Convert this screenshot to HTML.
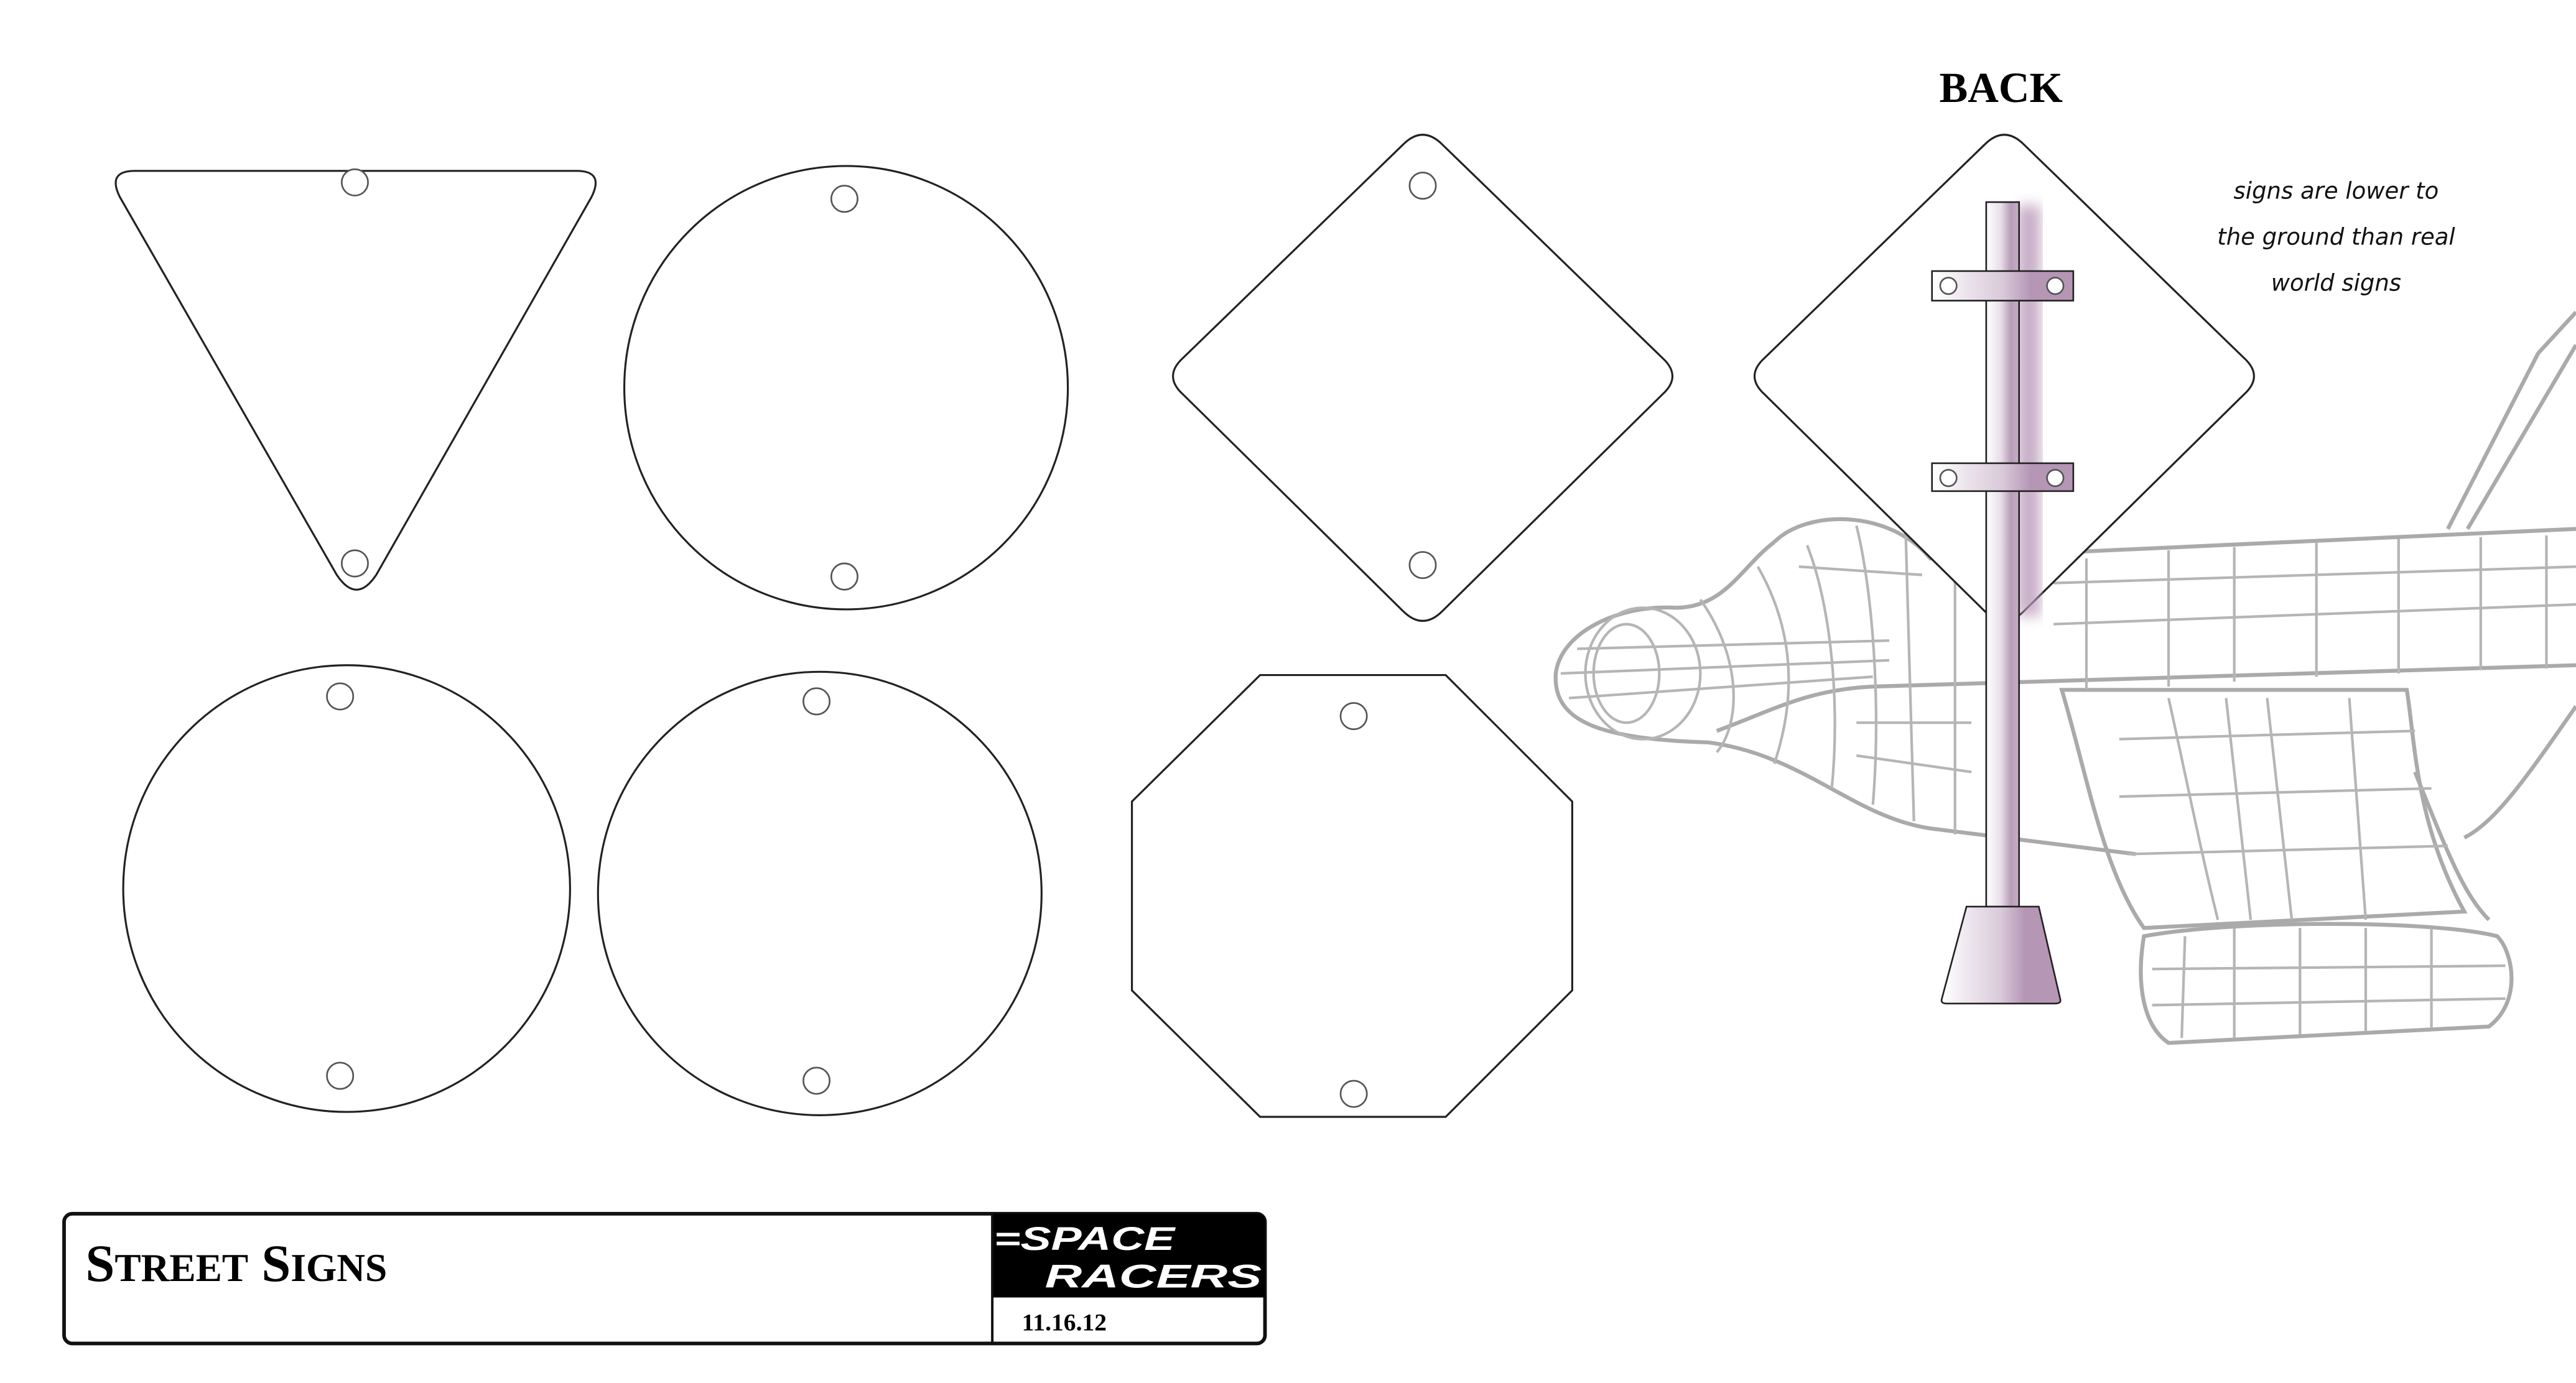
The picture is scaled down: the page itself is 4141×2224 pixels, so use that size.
<!DOCTYPE html>
<html><head><meta charset="utf-8"><style>
html,body{margin:0;padding:0;background:#fff}
svg{display:block}
</style></head><body>
<svg width="4141" height="2224" viewBox="0 0 1568 842" xmlns="http://www.w3.org/2000/svg">
<defs>
<linearGradient id="pg" x1="0" x2="1" y1="0" y2="0">
<stop offset="0" stop-color="#fff"/><stop offset="0.45" stop-color="#e8dde8"/><stop offset="0.75" stop-color="#b89cb8"/><stop offset="1" stop-color="#c7b0c7"/></linearGradient>
<linearGradient id="bg" x1="0" x2="1" y1="0" y2="0">
<stop offset="0" stop-color="#fff"/><stop offset="0.5" stop-color="#d9c9d9"/><stop offset="0.7" stop-color="#b596b5"/><stop offset="1" stop-color="#b596b5"/></linearGradient>
<filter id="bl"><feGaussianBlur stdDeviation="4"/></filter>
</defs>
<rect width="1568" height="842" fill="#fff"/>

<g fill="none" stroke="#aaa" stroke-width="2.4">
<path d="M1080,330 C1100,310 1150,310 1175,340 L1568,322"/>
<path d="M1490,322 L1545,215 L1568,190"/>
<path d="M1502,322 L1568,210"/>
<path d="M1080,330 C1060,345 1050,370 1020,370 C985,368 950,385 947,410 C945,440 975,450 1040,452 C1100,460 1130,500 1180,505 C1220,510 1260,515 1300,520"/>
<path d="M1045,445 C1080,432 1100,420 1140,418 L1568,405"/>
<path d="M1255,420 C1270,470 1280,530 1305,565 L1500,555 C1470,500 1470,450 1465,420 Z"/>
<path d="M1305,570 C1300,600 1305,625 1320,635 L1515,625 C1535,610 1530,580 1520,570 C1480,560 1360,560 1305,570 Z"/>
<path d="M1470,470 C1490,520 1500,545 1515,560"/>
<path d="M1568,430 C1540,470 1520,500 1500,510"/>
</g>
<g fill="none" stroke="#b5b5b5" stroke-width="1.6">
<ellipse cx="990" cy="410" rx="20" ry="30"/>
<ellipse cx="1000" cy="410" rx="35" ry="40"/>
<path d="M960,395 L1150,390 M955,425 L1140,412 M950,410 L1150,402 M1035,365 C1060,400 1060,440 1045,458 M1070,345 C1090,380 1095,420 1080,465 M1100,332 C1115,370 1120,430 1115,480 M1130,320 C1140,360 1145,430 1140,490 M1160,325 L1165,500 M1190,340 L1190,508 M1095,345 L1170,350 M1270,340 L1270,420 M1320,335 L1320,418 M1360,333 L1360,415 M1410,330 L1410,412 M1460,328 L1460,410 M1510,327 L1510,408 M1550,326 L1550,407 M1250,380 L1568,368 M1250,355 L1568,345 M1130,460 L1200,470 M1130,440 L1200,440 M1290,450 L1470,445 M1290,485 L1480,480 M1295,520 L1490,515 M1320,425 C1330,470 1340,520 1350,560 M1355,425 L1370,560 M1380,425 L1395,560 M1430,425 L1440,560 M1330,570 L1328,632 M1360,565 L1360,632 M1400,565 L1400,630 M1440,565 L1440,628 M1480,565 L1480,626 M1310,590 L1525,588 M1310,612 L1525,608"/>
</g>

<g fill="#fff" stroke="#222" stroke-width="1.2">
<path d="M82,104 L351,104 Q368,104 360,120 L229,350 Q217,368 205,350 L73,120 Q65,104 82,104 Z"/>
<circle cx="515" cy="236" r="135"/>
<circle cx="211" cy="541" r="136"/>
<circle cx="499" cy="544" r="135"/>
<path d="M854,88 Q866,76 878,88 L1012,218 Q1024,229 1012,240 L878,372 Q866,384 854,372 L720,240 Q708,229 720,218 Z"/>
<path d="M767,411 L880,411 L957,488 L957,603 L880,680 L767,680 L689,603 L689,488 Z"/>
<path d="M1208,88 Q1220,76 1232,88 L1366,218 Q1378,229 1366,240 L1232,372 Q1220,384 1208,372 L1074,240 Q1062,229 1074,218 Z"/>
</g>
<g fill="#fff" stroke="#555" stroke-width="1">
<circle cx="216" cy="111" r="8"/><circle cx="216" cy="343" r="8"/>
<circle cx="514" cy="121" r="8"/><circle cx="514" cy="351" r="8"/>
<circle cx="207" cy="424" r="8"/><circle cx="207" cy="655" r="8"/>
<circle cx="497" cy="427" r="8"/><circle cx="497" cy="658" r="8"/>
<circle cx="866" cy="113" r="8"/><circle cx="866" cy="344" r="8"/>
<circle cx="824" cy="436" r="8"/><circle cx="824" cy="666" r="8"/>
</g>

<rect x="1228" y="125" width="14" height="250" fill="#b99ab9" filter="url(#bl)" opacity="0.8"/>
<rect x="1209" y="123" width="20" height="429" fill="url(#pg)" stroke="#222" stroke-width="1"/>
<rect x="1176" y="165" width="86" height="18" fill="url(#bg)" stroke="#222" stroke-width="1"/>
<rect x="1176" y="282" width="86" height="17" fill="url(#bg)" stroke="#222" stroke-width="1"/>
<g fill="#fff" stroke="#555"><circle cx="1186" cy="174" r="5"/><circle cx="1251" cy="174" r="5"/><circle cx="1186" cy="291" r="5"/><circle cx="1251" cy="291" r="5"/></g>
<path d="M1197,552 L1241,552 L1254,608 Q1255,611 1251,611 L1185,611 Q1181,611 1182,608 Z" fill="url(#bg)" stroke="#222" stroke-width="1"/>

<text x="1218" y="62" text-anchor="middle" font-family="Liberation Serif, serif" font-weight="bold" font-size="26">BACK</text>
<g font-family="DejaVu Sans, sans-serif" font-size="14" text-anchor="middle" font-style="italic" fill="#111">
<text x="1422" y="121">signs are lower to</text>
<text x="1422" y="149">the ground than real</text>
<text x="1422" y="177">world signs</text>
</g>

<rect x="39" y="739" width="731" height="79" rx="5" fill="#fff" stroke="#111" stroke-width="2.2"/>
<path d="M604,739 L765,739 Q770,739 770,744 L770,790 L604,790 Z" fill="#000"/>
<line x1="604" y1="739" x2="604" y2="818" stroke="#111" stroke-width="1.5"/>
<text x="52" y="780" font-family="Liberation Serif, serif" font-weight="bold" font-size="32">S<tspan font-size="24">TREET</tspan> S<tspan font-size="24">IGNS</tspan></text>
<g font-family="Liberation Sans, sans-serif" font-weight="bold" font-style="italic" fill="#fff" font-size="20">
<text x="605" y="761" textLength="110" lengthAdjust="spacingAndGlyphs">=SPACE</text>
<text x="636" y="784" textLength="132" lengthAdjust="spacingAndGlyphs">RACERS</text>
</g>
<text x="622" y="810" font-family="Liberation Serif, serif" font-weight="bold" font-size="15">11.16.12</text>
</svg>
</body></html>
